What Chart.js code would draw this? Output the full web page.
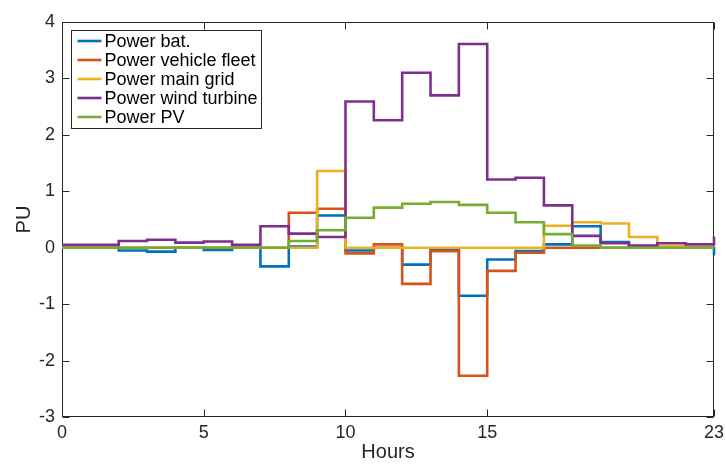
<!DOCTYPE html>
<html>
<head>
<meta charset="utf-8">
<script src="https://cdn.jsdelivr.net/npm/chart.js@4/dist/chart.umd.min.js"></script>
<style>
  html, body { margin: 0; padding: 0; background: #fff; }
  canvas { display: block; }
</style>
</head>
<body>
<canvas id="chart" width="726" height="464"></canvas>
<script>
// Hourly power profile (per-unit), one value per hour, held until the next hour
const hours = [0, 1, 2, 3, 4, 5, 6, 7, 8, 9, 10, 11, 12, 13, 14, 15, 16, 17, 18, 19, 20, 21, 22, 23];

const powerBattery = [0, 0, -0.05, -0.07, 0, -0.04, 0, -0.33, 0.02, 0.57, -0.05, 0, -0.30, -0.04, -0.85, -0.21, -0.06, 0.06, 0.38, 0.10, 0, 0, 0, -0.14];
const powerVehicleFleet = [0, 0, 0, 0, 0, 0, 0, 0, 0.62, 0.69, -0.10, 0.06, -0.64, -0.06, -2.27, -0.41, -0.09, 0, 0, 0, 0, 0, 0, 0];
const powerMainGrid = [0, 0, 0, 0, 0, 0, 0, 0, 0, 1.36, 0, 0, 0, 0, 0, 0, 0, 0.39, 0.45, 0.43, 0.19, 0.03, 0, 0];
const powerWindTurbine = [0.05, 0.05, 0.12, 0.14, 0.09, 0.11, 0.05, 0.38, 0.25, 0.19, 2.59, 2.26, 3.10, 2.70, 3.61, 1.21, 1.24, 0.75, 0.21, 0.08, 0.04, 0.08, 0.06, 0.20];
const powerPV = [0, 0, 0, 0, 0, 0, 0, 0, 0.12, 0.31, 0.53, 0.71, 0.78, 0.81, 0.76, 0.62, 0.45, 0.24, 0.04, 0, 0, 0, 0, 0];

const seriesLabels = ['Power bat.', 'Power vehicle fleet', 'Power main grid', 'Power wind turbine', 'Power PV'];
const xTickValues = [0, 5, 10, 15, 23];
const yTickValues = [-3, -2, -1, 0, 1, 2, 3, 4];

const seriesValues = [powerBattery, powerVehicleFleet, powerMainGrid, powerWindTurbine, powerPV];
const seriesColors = ['#0072BD', '#D95319', '#EDB120', '#7E2F8E', '#77AC30'];

const FONT = "'Liberation Sans', Arial, Helvetica, sans-serif";
const AXIS_COLOR = '#262626';

const datasets = seriesValues.map((vals, i) => ({
  label: seriesLabels[i],
  data: hours.map((h, k) => ({ x: h, y: vals[k] })),
  borderColor: seriesColors[i],
  backgroundColor: seriesColors[i],
  borderWidth: 2.6,
  stepped: true,
  pointRadius: 0,
  fill: false,
  clip: false,
  order: seriesValues.length - i  // later series are painted over earlier ones
}));

// Box around the plot area with inward tick marks on all four sides (under the lines)
const boxAndTicks = {
  id: 'boxAndTicks',
  beforeDatasetsDraw(chart) {
    const { ctx, chartArea: a, scales } = chart;
    const L = Math.round(a.left) + 0.5, R = Math.round(a.right) - 0.5;
    const T = Math.round(a.top) + 0.5, B = Math.round(a.bottom) - 0.5;
    const len = 7;
    ctx.save();
    ctx.strokeStyle = AXIS_COLOR;
    ctx.lineWidth = 1;
    ctx.strokeRect(L, T, R - L, B - T);
    ctx.beginPath();
    xTickValues.forEach(v => {
      const x = Math.round(scales.x.getPixelForValue(v)) + 0.5;
      ctx.moveTo(x, B); ctx.lineTo(x, B - len);
      ctx.moveTo(x, T); ctx.lineTo(x, T + len);
    });
    yTickValues.forEach(v => {
      const y = Math.round(scales.y.getPixelForValue(v)) + 0.5;
      ctx.moveTo(L, y); ctx.lineTo(L + len, y);
      ctx.moveTo(R, y); ctx.lineTo(R - len, y);
    });
    ctx.stroke();
    ctx.restore();
  }
};

// Boxed legend in the upper-left corner of the plot area
const boxedLegend = {
  id: 'boxedLegend',
  afterDraw(chart) {
    const { ctx, chartArea: a } = chart;
    const x0 = a.left + 9.5, y0 = a.top + 8.5;
    const w = 190, rowH = 19, h = 98;
    ctx.save();
    ctx.fillStyle = '#fff';
    ctx.fillRect(x0, y0, w, h);
    ctx.strokeStyle = AXIS_COLOR;
    ctx.lineWidth = 1;
    ctx.strokeRect(x0, y0, w, h);
    ctx.font = '18px ' + FONT;
    ctx.textBaseline = 'middle';
    ctx.textAlign = 'left';
    chart.data.datasets.forEach((ds, i) => {
      const cy = y0 + 10.5 + i * rowH;
      ctx.strokeStyle = ds.borderColor;
      ctx.lineWidth = 2.6;
      ctx.beginPath();
      ctx.moveTo(x0 + 6, cy);
      ctx.lineTo(x0 + 30, cy);
      ctx.stroke();
      ctx.fillStyle = '#000';
      ctx.fillText(ds.label, x0 + 33, cy + 1);
    });
    ctx.restore();
  }
};

new Chart(document.getElementById('chart'), {
  type: 'line',
  data: { datasets },
  plugins: [boxAndTicks, boxedLegend],
  options: {
    responsive: false,
    animation: false,
    layout: { padding: { left: 0, right: 12, top: 22, bottom: 0 } },
    plugins: { legend: { display: false }, tooltip: { enabled: false } },
    scales: {
      x: {
        type: 'linear',
        min: 0,
        max: 23,
        afterBuildTicks: s => { s.ticks = xTickValues.map(v => ({ value: v })); },
        afterFit: s => { s.height = 47; s.paddingLeft = 0; s.paddingRight = 0; },
        grid: { display: false, drawTicks: false },
        border: { display: false },
        ticks: { color: AXIS_COLOR, font: { family: FONT, size: 18 }, padding: 5, maxRotation: 0, autoSkip: false },
        title: { display: true, text: 'Hours', color: AXIS_COLOR, font: { family: FONT, size: 20 }, padding: { top: 0, bottom: 0 } }
      },
      y: {
        type: 'linear',
        min: -3,
        max: 4,
        afterBuildTicks: s => { s.ticks = yTickValues.map(v => ({ value: v })); },
        afterFit: s => { s.width = 62; s.paddingTop = 0; s.paddingBottom = 0; },
        grid: { display: false, drawTicks: false },
        border: { display: false },
        ticks: { color: AXIS_COLOR, font: { family: FONT, size: 18 }, padding: 7 },
        title: { display: true, text: 'PU', color: AXIS_COLOR, font: { family: FONT, size: 20 }, padding: { top: 12, bottom: 0 } }
      }
    }
  }
});
</script>
</body>
</html>
